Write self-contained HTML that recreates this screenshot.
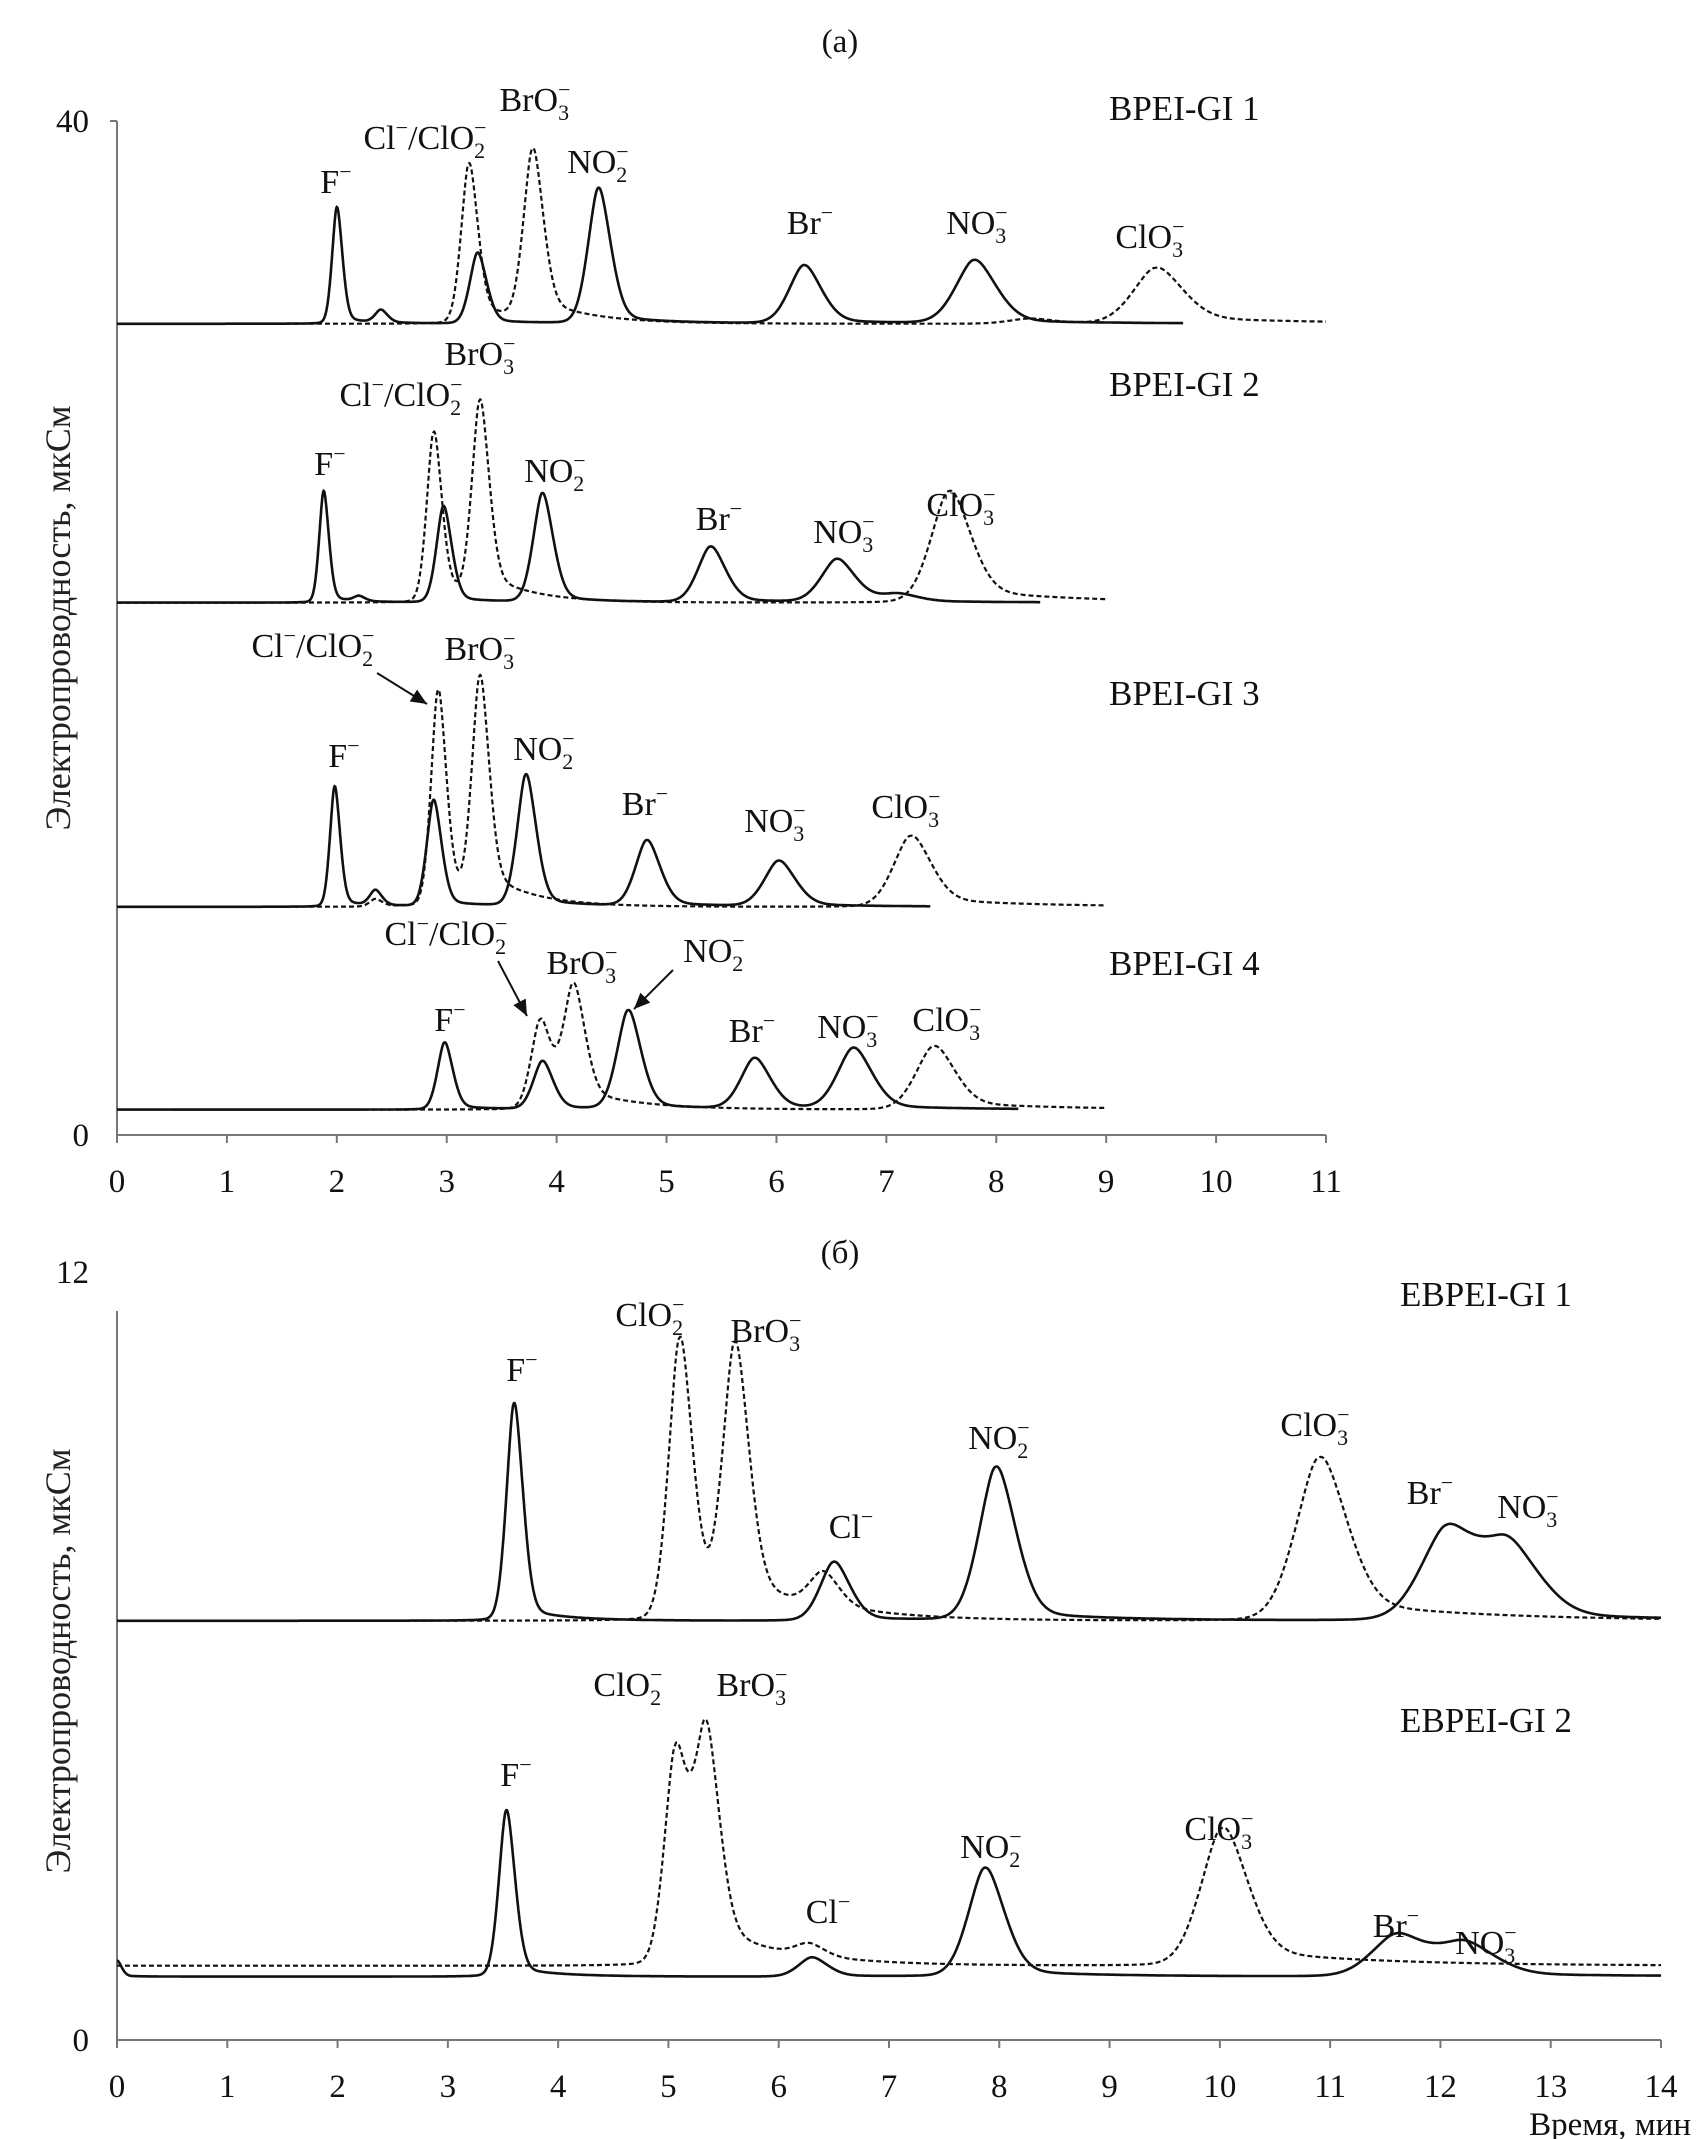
<!DOCTYPE html>
<html><head><meta charset="utf-8"><style>
html,body{margin:0;padding:0;background:#fff;}
svg{display:block;font-family:"Liberation Serif",serif;}
</style></head><body>
<svg id="chart" width="1702" height="2139" viewBox="0 0 1702 2139" xmlns="http://www.w3.org/2000/svg"></svg>
<script>
// ---------- data ----------
const topXTicks=[0,1,2,3,4,5,6,7,8,9,10,11];
const botXTicks=[0,1,2,3,4,5,6,7,8,9,10,11,12,13,14];
const topYTicks=[0,40];
const botYTicks=[0,12];
// top chart traces: baselines (µS), peak centers (min), heights (µS)
const t1Base=32, t1SolidC=[2.0,2.4,3.28,4.38,6.25,7.8], t1SolidH=[4.6,0.5,2.8,5.35,2.3,2.5];
const t1DashC=[3.2,3.78,8.3,9.45], t1DashH=[6.3,6.7,0.2,2.2];
const t2Base=21, t2SolidC=[1.88,2.2,2.97,3.87,5.4,6.55,7.1], t2SolidH=[4.4,0.2,3.8,4.3,2.2,1.7,0.3];
const t2DashC=[2.88,3.3,7.57], t2DashH=[6.7,7.7,4.4];
const t3Base=9, t3SolidC=[1.98,2.35,2.88,3.72,4.82,6.02], t3SolidH=[4.75,0.6,4.2,5.2,2.6,1.8];
const t3DashC=[2.35,2.92,3.3,7.22], t3DashH=[0.3,8.5,8.7,2.8];
const t4Base=1, t4SolidC=[2.98,3.87,4.65,5.8,6.7], t4SolidH=[2.65,1.9,3.9,2.0,2.4];
const t4DashC=[3.85,4.15,7.43], t4DashH=[3.5,4.7,2.5];
// bottom chart traces
const b1Base=6.55, b1SolidC=[3.6,6.5,7.97,12.05,12.62], b1SolidH=[3.4,0.92,2.4,1.4,1.1];
const b1DashC=[5.1,5.6,6.4,10.9], b1DashH=[4.4,4.1,0.55,2.55];
const b2Base=0.99, b2SolidC=[0.0,3.53,6.3,7.87,11.6,12.22], b2SolidH=[0.25,2.6,0.3,1.7,0.65,0.5];
const b2Base2=1.16, b2DashC=[5.06,5.34,6.27,10.02], b2DashH=[3.3,3.4,0.2,2.15];
// ---------- layout ----------
const svg=document.getElementById('chart');
const NS='http://www.w3.org/2000/svg';
function mk(tag,attrs,parent){const e=document.createElementNS(NS,tag);for(const k in attrs)e.setAttribute(k,attrs[k]);(parent||svg).appendChild(e);return e;}
const TOP={x0:117,x1:1326,xmax:11,y0:1135,y1:121,ymax:40,k:0.027};
const BOT={x0:117,x1:1661,xmax:14,y0:2040,y1:1272,ymax:12,k:0.024};
function sx(A,v){return A.x0+(A.x1-A.x0)*v/A.xmax;}
function sy(A,v){return A.y0-(A.y0-A.y1)*v/A.ymax;}
function curve(A,base,cs,hs,xs,xe,dashed,name){
  let d='';
  for(let x=xs;x<=xe+1e-9;x+=0.005){
    let v=base;
    for(let i=0;i<cs.length;i++){
      const hw=Math.max(0.045,A.k*cs[i]);
      const sig=hw/1.1774;
      const dx=x-cs[i];
      const s=dx<0?sig:sig*1.15;
      const hh=dx<0?hw:hw*1.15;
      v+=hs[i]*(0.8*Math.exp(-0.5*(dx/s)*(dx/s))+0.2/(1+(dx/hh)*(dx/hh)*3));
      if(dx>0) v+=hs[i]*(dashed?0.12:0.05)*Math.exp(-dx/(hw*5))*(1-Math.exp(-dx/hw));
    }
    d+=(d?'L':'M')+sx(A,x).toFixed(1)+' '+sy(A,v).toFixed(1);
  }
  const p=mk('path',{d:d,fill:'none',stroke:'#111','stroke-width':dashed?2.2:2.6,'stroke-dasharray':dashed?'5 3':'none'});
  
  
}
function txt(x,y,s,size,anchor,name){
  const t=mk('text',{x:x,y:y,'font-size':size||30,'text-anchor':anchor||'middle',fill:'#111'});
  t.textContent=s;
  
  
  return t;
}
function ionParts(cx,y,parts,name){
  const g=mk('g',{});
  
  
  let x=0;
  parts.forEach(p=>{
    const t=mk('text',{x:x,y:y,'font-size':34,fill:'#111'},g);t.textContent=p[0];
    x+=t.getComputedTextLength();
    let w=0;
    if(p[2]){const s=mk('text',{x:x,y:y-14,'font-size':22,fill:'#111'},g);s.textContent=p[2];w=Math.max(w,s.getComputedTextLength());}
    if(p[1]){const s=mk('text',{x:x,y:y+9,'font-size':22,fill:'#111'},g);s.textContent=p[1];w=Math.max(w,s.getComputedTextLength());}
    x+=w;
  });
  g.setAttribute('transform','translate('+(cx-x/2).toFixed(1)+',0)');
}
function ion(cx,y,base,sub,sup,name){ionParts(cx,y,[[base,sub,sup]],name);}
function clclo2(cx,y,name){ionParts(cx,y,[['Cl','','−'],['/ClO','2','−']],name);}
function arrow(x1,y1,x2,y2,name){
  const l=mk('line',{x1:x1,y1:y1,x2:x2,y2:y2,stroke:'#111','stroke-width':2});
  
  const a=Math.atan2(y2-y1,x2-x1),L=16,W=7;
  const p=[[x2,y2],[x2-L*Math.cos(a)+W*Math.sin(a),y2-L*Math.sin(a)-W*Math.cos(a)],[x2-L*Math.cos(a)-W*Math.sin(a),y2-L*Math.sin(a)+W*Math.cos(a)]];
  const h=mk('polygon',{points:p.map(q=>q.join(',')).join(' '),fill:'#111'});
  
}
function axes(A,xt,yt,prefix){
  let l=mk('line',{x1:A.x0,y1:A.y0,x2:A.x1,y2:A.y0,stroke:'#777','stroke-width':2});
  
  l=mk('line',{x1:A.x0,y1:A.y0,x2:A.x0,y2:prefix==='bottom'?1311:A.y1,stroke:'#777','stroke-width':2});
  
  if(prefix==='top'){l=mk('line',{x1:A.x0-7,y1:A.y1,x2:A.x0,y2:A.y1,stroke:'#777','stroke-width':2});}
  xt.forEach(v=>{
    const x=sx(A,v);
    const t=mk('line',{x1:x,y1:A.y0,x2:x,y2:A.y0+8,stroke:'#777','stroke-width':2});
    
    txt(x,A.y0+57,String(v),33,'middle',prefix+'-x-tick-label');
  });
  yt.forEach(v=>{txt(A.x0-28,sy(A,v)+11,String(v),33,'end',prefix+'-y-tick-label');});
}
// ---------- top chart ----------
txt(840,52,'(a)',33,'middle','panel-a-title');
axes(TOP,topXTicks,topYTicks,'top');
let yt=mk('text',{x:0,y:0,'font-size':36,'text-anchor':'middle',fill:'#222',transform:'translate(70,618) rotate(-90)'});
yt.textContent='Электропроводность, мкСм';
curve(TOP,t1Base,t1SolidC,t1SolidH,0,9.7,false,'bpei1-solid');
curve(TOP,t1Base,t1DashC,t1DashH,0,11,true,'bpei1-dashed');
curve(TOP,t2Base,t2SolidC,t2SolidH,0,8.4,false,'bpei2-solid');
curve(TOP,t2Base,t2DashC,t2DashH,0,9,true,'bpei2-dashed');
curve(TOP,t3Base,t3SolidC,t3SolidH,0,7.4,false,'bpei3-solid');
curve(TOP,t3Base,t3DashC,t3DashH,0,9,true,'bpei3-dashed');
curve(TOP,t4Base,t4SolidC,t4SolidH,0,8.2,false,'bpei4-solid');
curve(TOP,t4Base,t4DashC,t4DashH,0.5,9,true,'bpei4-dashed');
txt(1109,120,'BPEI-GI 1',35,'start','bpei1-name');
ion(336,193,'F','','−','f-label-1');clclo2(425,149,'cl-clo2-label-1');ion(535,111,'BrO','3','−','bro3-label-1');
ion(598,173,'NO','2','−','no2-label-1');ion(810,234,'Br','','−','br-label-1');ion(977,234,'NO','3','−','no3-label-1');ion(1150,248,'ClO','3','−','clo3-label-1');
txt(1109,396,'BPEI-GI 2',35,'start','bpei2-name');
ion(330,475,'F','','−','f-label-2');clclo2(401,406,'cl-clo2-label-2');ion(480,365,'BrO','3','−','bro3-label-2');
ion(555,482,'NO','2','−','no2-label-2');ion(719,530,'Br','','−','br-label-2');ion(844,543,'NO','3','−','no3-label-2');ion(961,516,'ClO','3','−','clo3-label-2');
txt(1109,705,'BPEI-GI 3',35,'start','bpei3-name');
clclo2(313,657,'cl-clo2-label-3');arrow(377,673,427,704,'cl-arrow-3');ion(480,660,'BrO','3','−','bro3-label-3');
ion(344,767,'F','','−','f-label-3');ion(544,760,'NO','2','−','no2-label-3');ion(645,815,'Br','','−','br-label-3');ion(775,832,'NO','3','−','no3-label-3');ion(906,818,'ClO','3','−','clo3-label-3');
txt(1109,975,'BPEI-GI 4',35,'start','bpei4-name');
clclo2(446,945,'cl-clo2-label-4');arrow(498,961,527,1016,'cl-arrow-4');ion(582,974,'BrO','3','−','bro3-label-4');
ion(714,962,'NO','2','−','no2-label-4');arrow(673,970,634,1009,'no2-arrow-4');
ion(450,1031,'F','','−','f-label-4');ion(752,1042,'Br','','−','br-label-4');ion(848,1038,'NO','3','−','no3-label-4');ion(947,1031,'ClO','3','−','clo3-label-4');
// ---------- bottom chart ----------
txt(840,1263,'(б)',33,'middle','panel-b-title');
axes(BOT,botXTicks,botYTicks,'bottom');
yt=mk('text',{x:0,y:0,'font-size':36,'text-anchor':'middle',fill:'#222',transform:'translate(70,1661) rotate(-90)'});
yt.textContent='Электропроводность, мкСм';
txt(1691,2135,'Время, мин',33,'end','x-axis-title');
curve(BOT,b1Base,b1SolidC,b1SolidH,0,14,false,'ebpei1-solid');
curve(BOT,b1Base,b1DashC,b1DashH,0,14,true,'ebpei1-dashed');
curve(BOT,b2Base,b2SolidC,b2SolidH,0,14,false,'ebpei2-solid');
curve(BOT,b2Base2,b2DashC,b2DashH,0,14,true,'ebpei2-dashed');
txt(1400,1306,'EBPEI-GI 1',35,'start','ebpei1-name');
ion(522,1381,'F','','−','f-label-b1');ion(650,1326,'ClO','2','−','clo2-label-b1');ion(766,1342,'BrO','3','−','bro3-label-b1');
ion(851,1538,'Cl','','−','cl-label-b1');ion(999,1449,'NO','2','−','no2-label-b1');ion(1315,1436,'ClO','3','−','clo3-label-b1');
ion(1430,1504,'Br','','−','br-label-b1');ion(1528,1518,'NO','3','−','no3-label-b1');
txt(1400,1732,'EBPEI-GI 2',35,'start','ebpei2-name');
ion(628,1696,'ClO','2','−','clo2-label-b2');ion(752,1696,'BrO','3','−','bro3-label-b2');ion(516,1786,'F','','−','f-label-b2');
ion(828,1923,'Cl','','−','cl-label-b2');ion(991,1858,'NO','2','−','no2-label-b2');ion(1219,1840,'ClO','3','−','clo3-label-b2');
ion(1396,1937,'Br','','−','br-label-b2');ion(1486,1954,'NO','3','−','no3-label-b2');
</script>
</body></html>
